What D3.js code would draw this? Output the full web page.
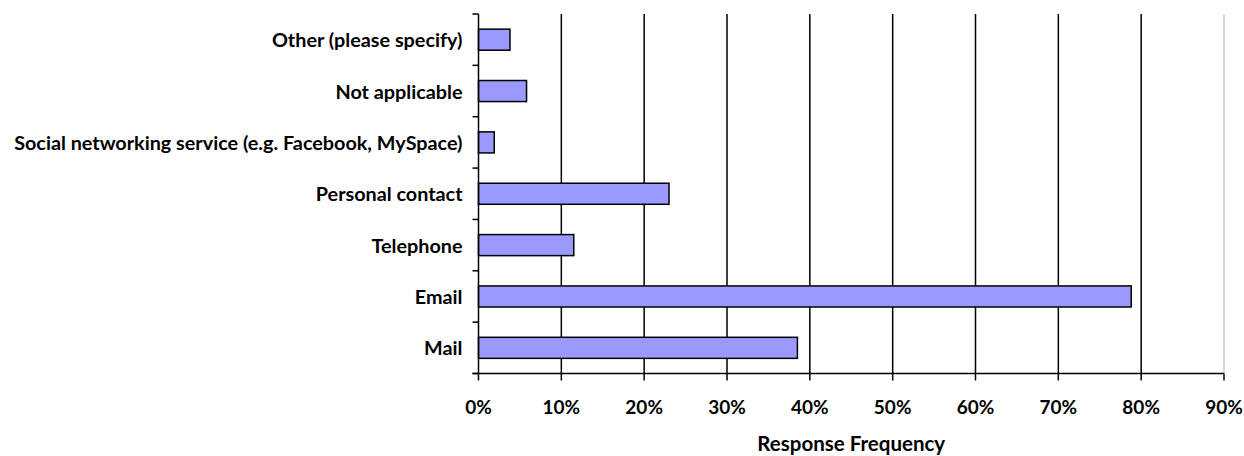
<!DOCTYPE html>
<html><head><meta charset="utf-8">
<script src="https://cdn.jsdelivr.net/npm/d3@7"></script>
<style>body{margin:0;background:#fff}svg{display:block}text{font-family:Lato,"Open Sans",sans-serif;font-weight:bold;fill:#000}</style>
</head><body><svg id="c" width="1244" height="456"></svg>
<script>
const categories = ["Mail","Email","Telephone","Personal contact","Social networking service (e.g. Facebook, MySpace)","Not applicable","Other (please specify)"];
const values = [38.5, 78.8, 11.5, 23.0, 1.9, 5.8, 3.8];
const tickValues = [0,10,20,30,40,50,60,70,80,90];
const tickLabels = ["0%","10%","20%","30%","40%","50%","60%","70%","80%","90%"];
const xTitle = "Response Frequency";

const svg = d3.select("#c");
const pL = 478.5, pR = 1224, pT = 14, pB = 373.5;
const x = d3.scaleLinear().domain([0,90]).range([pL,pR]);
const y = d3.scaleBand().domain(categories.slice().reverse()).range([pT,pB]).paddingInner(0.59).paddingOuter(0.295);

// gridlines
svg.append("g").selectAll("line").data(tickValues.filter(d=>d>0)).join("line")
  .attr("x1",d=>x(d)).attr("x2",d=>x(d)).attr("y1",pT).attr("y2",pB)
  .attr("stroke",d=>d===90?"#b0b0b0":"#000").attr("stroke-width",d=>d===90?1:1.5);

// bars
svg.append("g").selectAll("rect").data(categories).join("rect")
  .attr("x",x(0)).attr("y",d=>y(d)).attr("height",y.bandwidth())
  .attr("width",(d,i)=>x(values[i])-x(0))
  .attr("fill","#9999ff").attr("stroke","#000").attr("stroke-width",1.5);

// y axis line and ticks at boundaries
const step = (pB-pT)/categories.length;
const g = svg.append("g");
g.append("line").attr("x1",pL).attr("x2",pL).attr("y1",pT).attr("y2",pB).attr("stroke","#000").attr("stroke-width",1.5);
g.selectAll("line.t").data(d3.range(categories.length+1)).join("line").attr("class","t")
  .attr("x1",pL-6).attr("x2",pL).attr("y1",i=>pT+i*step).attr("y2",i=>pT+i*step)
  .attr("stroke","#000").attr("stroke-width",1.5);
g.selectAll("text").data(categories).join("text")
  .attr("x",pL-16).attr("y",d=>y(d)+y.bandwidth()/2+7.5)
  .attr("text-anchor","end").attr("font-size",19.8).text(d=>d);

// x axis
const gx = svg.append("g");
gx.append("line").attr("x1",pL-6).attr("x2",pR).attr("y1",pB).attr("y2",pB).attr("stroke","#000").attr("stroke-width",1.5);
gx.selectAll("line.t").data(tickValues).join("line").attr("class","t")
  .attr("x1",d=>x(d)).attr("x2",d=>x(d)).attr("y1",pB).attr("y2",pB+7)
  .attr("stroke","#000").attr("stroke-width",1.5);
gx.selectAll("text").data(tickValues).join("text")
  .attr("x",d=>x(d)).attr("y",413.5).attr("text-anchor","middle")
  .attr("font-size",19).text((d,i)=>tickLabels[i]);
svg.append("text").attr("x",(pL+pR)/2).attr("y",451).attr("text-anchor","middle")
  .attr("font-size",20.5).text(xTitle);
</script></body></html>
